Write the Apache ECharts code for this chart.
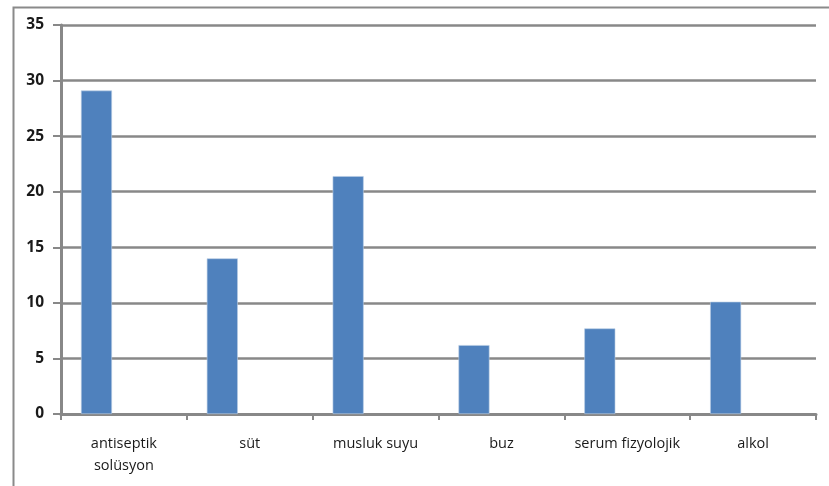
<!DOCTYPE html>
<html>
<head>
<meta charset="utf-8">
<script src="https://cdn.jsdelivr.net/npm/echarts@6/dist/echarts.min.js"></script>
<style>html,body{margin:0;padding:0;background:#fff;}#c{width:829px;height:486px;}</style>
</head>
<body>
<div id="c"></div>
<script>
const categories = ['antiseptik\nsolüsyon', 'süt', 'musluk suyu', 'buz', 'serum fizyolojik', 'alkol'];
const values = [29.1, 14.0, 21.4, 6.2, 7.7, 10.1];
const emptySeries = [null, null, null, null, null, null];
const yTicks = [0, 5, 10, 15, 20, 25, 30, 35];

const chart = echarts.init(document.getElementById('c'));
const font = '"Open Sans", Lato, sans-serif';
chart.setOption({
  animation: false,
  backgroundColor: '#fff',
  graphic: [{
    type: 'rect', left: 11, top: 5, z: 100,
    shape: { x: 0, y: 0, width: 900, height: 600 },
    style: { fill: 'none', stroke: '#8a8a8a', lineWidth: 2 }
  }],
  grid: { left: 61, right: 13, top: 25, bottom: 72, containLabel: false },
  xAxis: {
    type: 'category', data: categories,
    axisLine: { lineStyle: { color: '#888', width: 3 } },
    axisTick: { show: true, length: 6, lineStyle: { color: '#888', width: 2 } },
    axisLabel: { color: '#1a1a1a', fontFamily: font, fontSize: 14.5, margin: 19, lineHeight: 22, interval: 0 }
  },
  yAxis: {
    type: 'value', min: yTicks[0], max: yTicks[yTicks.length - 1], interval: 5,
    axisLine: { show: true, lineStyle: { color: '#888', width: 3 } },
    axisTick: { show: true, length: 8, lineStyle: { color: '#888', width: 2 } },
    axisLabel: { color: '#1a1a1a', fontFamily: font, fontSize: 15.5, fontWeight: 'bold', margin: 17 },
    splitLine: { lineStyle: { color: '#888', width: 2.5 } }
  },
  series: [
    { type: 'bar', data: values, barWidth: 31, barGap: '77%',
      itemStyle: { color: '#4f81bd', borderColor: '#b8cce4', borderWidth: 0.6 } },
    { type: 'bar', data: emptySeries, barWidth: 31 }
  ]
});
</script>
</body>
</html>
